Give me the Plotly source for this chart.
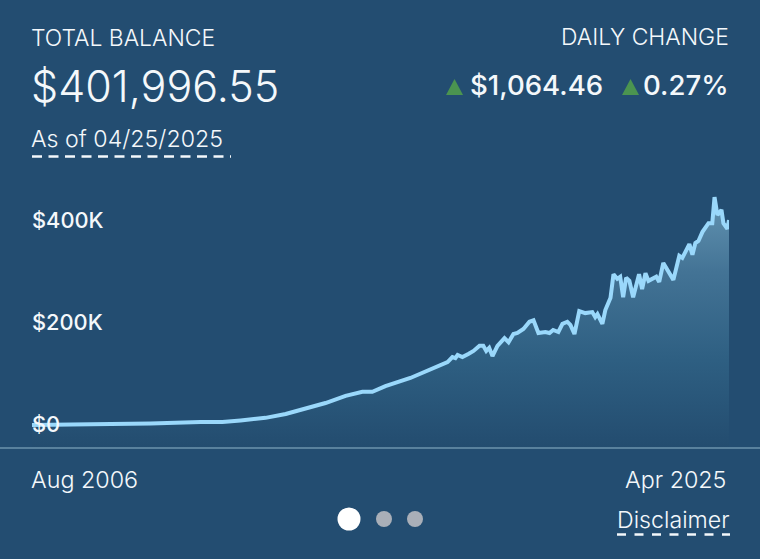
import plotly.graph_objects as go

W = 760
H = 559

# balance over time (thousands of dollars)
dates = ["2006-08-01", "2008-06-05", "2009-10-08", "2011-02-10", "2011-09-13", "2012-03-09", "2012-11-09",
         "2013-05-26", "2013-12-06", "2014-06-21", "2015-01-04", "2015-06-18", "2015-09-24", "2016-01-30",
         "2016-10-01", "2017-04-16", "2017-10-01", "2017-11-18", "2017-12-17", "2018-01-08", "2018-02-24",
         "2018-04-23", "2018-06-13", "2018-08-11", "2018-09-17", "2018-10-16", "2018-11-14", "2018-12-16",
         "2019-02-03", "2019-04-13", "2019-05-23", "2019-07-10", "2019-08-18", "2019-10-16", "2019-12-14",
         "2020-01-23", "2020-03-11", "2020-05-19", "2020-06-28", "2020-08-03", "2020-09-23", "2020-11-02",
         "2020-12-20", "2021-01-19", "2021-02-28", "2021-04-16", "2021-06-14", "2021-08-22", "2021-09-20",
         "2021-10-12", "2021-11-29", "2021-12-28", "2022-02-17", "2022-03-18", "2022-04-24", "2022-05-23",
         "2022-06-21", "2022-07-20", "2022-08-21", "2022-09-27", "2022-11-24", "2022-12-24", "2023-01-26",
         "2023-02-25", "2023-05-12", "2023-06-10", "2023-07-20", "2023-10-27", "2023-12-24", "2024-01-23",
         "2024-04-01", "2024-05-01", "2024-05-30", "2024-06-29", "2024-08-08", "2024-10-06", "2024-11-12",
         "2024-12-04", "2025-01-01", "2025-01-20", "2025-02-10", "2025-03-01", "2025-04-09", "2025-04-25"]
balance = [1, 2, 4, 7, 7, 10, 15,
           22.5, 34, 44, 58, 66, 66, 77,
           93, 110.5, 124, 134, 132, 138, 134,
           140, 146, 156, 156, 146, 152, 136,
           156, 171, 163, 179, 181, 189, 203,
           206, 181, 183, 181, 187, 183, 199,
           203, 197, 179, 224, 220, 222, 212,
           218, 199, 226, 250, 296, 287, 291,
           251, 289, 283, 251, 296, 267, 298,
           283, 291, 281, 318, 285, 332, 328,
           355, 334, 357, 361, 379, 396, 396,
           447, 412, 416, 422, 396, 385, 402]

y_ticks = [0, 200, 400]
y_tick_labels = ["$0", "$200K", "$400K"]
y_floor = -44
y_top = 480.4

FONT = "Inter"
BG = "#234d71"
WHITE = "#f4f8fb"


def px(x):
    return x / W


def py(y):
    return 1 - y / H


fig = go.Figure()

# invisible floor so the fill runs down to the bottom rule
fig.add_trace(go.Scatter(x=dates, y=[y_floor] * len(dates), mode="lines",
                         line=dict(width=0), hoverinfo="skip", showlegend=False))
fig.add_trace(go.Scatter(
    x=dates, y=balance, mode="lines", showlegend=False,
    line=dict(color="#9ad8fb", width=4),
    fill="tonexty",
    fillgradient=dict(type="vertical", start=y_floor, stop=447,
                      colorscale=[[0, "#234c6f"], [0.35, "#2e5f82"], [0.7, "#437395"], [1, "#6394b2"]]),
))

fig.update_layout(
    width=W, height=H,
    margin=dict(l=0, r=0, t=0, b=0),
    paper_bgcolor=BG, plot_bgcolor="rgba(0,0,0,0)",
    font=dict(family=FONT, color=WHITE),
    xaxis=dict(domain=[px(32), px(729)], range=[dates[0], dates[-1]], type="date",
               showgrid=False, zeroline=False, showticklabels=False, ticks=""),
    yaxis=dict(domain=[py(448), py(180)], range=[y_floor, y_top],
               tickvals=y_ticks, ticktext=y_tick_labels,
               ticklabelposition="inside", ticks="", ticklabelshift=-1,
               anchor="free", position=px(28),
               tickfont=dict(size=21.8, family=FONT, color=WHITE, weight=500),
               showgrid=False, zeroline=False),
)


def label(text, x, y, size, anchor="left", weight=300, color=WHITE):
    fig.add_annotation(text=text, x=px(x), y=py(y), xref="paper", yref="paper",
                       xanchor=anchor, yanchor="middle", showarrow=False, borderpad=0,
                       font=dict(size=size, family=FONT, color=color, weight=weight))


label("TOTAL BALANCE", 30, 38, 22.9)
label("$401,996.55", 30, 86, 43)
label("As of 04/25/2025", 30, 139, 23.2)
label("DAILY CHANGE", 730, 37, 22.9, "right")
label("$1,064.46", 604, 85, 27.6, "right", 500)
label("0.27%", 730, 85, 27.6, "right", 500)
label("Aug 2006", 30, 479, 23.3)
label("Apr 2025", 727, 479, 23.3, "right")
label("Disclaimer", 731, 520, 23.2, "right")


def shape_line(x0, x1, y, color, width, dash="solid"):
    fig.add_shape(type="line", xref="paper", yref="paper", x0=px(x0), x1=px(x1), y0=py(y), y1=py(y),
                  line=dict(color=color, width=width, dash=dash))


shape_line(0, 760, 448, "#6d93ad", 1.5)
shape_line(32, 231, 156.5, WHITE, 2.5, "10px,6.5px")
shape_line(617, 730, 534.5, WHITE, 2.5, "9px,8.5px")

# up triangles next to the daily change
for left in [446, 622]:
    path = f"M {px(left)} {py(95)} L {px(left + 17)} {py(95)} L {px(left + 8.5)} {py(79)} Z"
    fig.add_shape(type="path", xref="paper", yref="paper", path=path,
                  fillcolor="#4b9450", line=dict(width=0))

# page dots
for cx, r, color in [(349, 11.5, "#ffffff"), (384, 8, "#a9afb8"), (415, 8, "#a9afb8")]:
    fig.add_shape(type="circle", xref="paper", yref="paper",
                  x0=px(cx - r), x1=px(cx + r), y0=py(519 + r), y1=py(519 - r),
                  fillcolor=color, line=dict(width=0))

fig.write_html("out.html", config=dict(displayModeBar=False),
               post_script="document.body.style.margin='0';")
